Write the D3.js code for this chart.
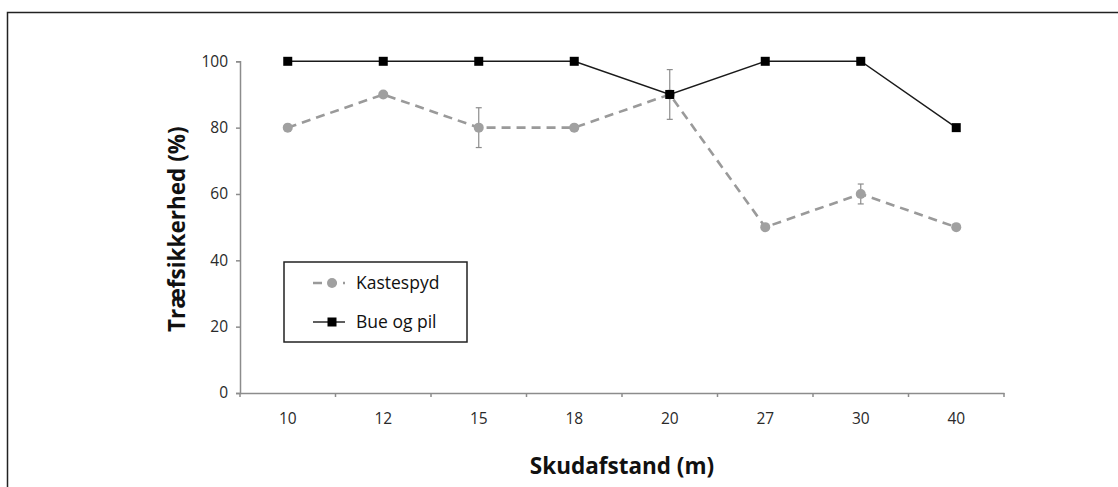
<!DOCTYPE html>
<html>
<head>
<meta charset="utf-8">
<script src="https://cdn.jsdelivr.net/npm/d3@7"></script>
<style>
  body { margin: 0; background: #fff; }
  text { font-family: "Open Sans", "Liberation Sans", sans-serif; }
</style>
</head>
<body>
<div id="chart"></div>
<script>
// data
var distances = ["10", "12", "15", "18", "20", "27", "30", "40"];
var kastespyd = [80, 90, 80, 80, 90, 50, 60, 50];
var kastespydErr = [0, 0, 6, 0, 7.5, 0, 3, 0];
var buePil = [100, 100, 100, 100, 90, 100, 100, 80];
var yTicks = [0, 20, 40, 60, 80, 100];

var svgWidth = 1118;
var svgHeight = 487;

var margin = { top: 61.3, right: 114, bottom: 94, left: 240 };
var width = svgWidth - margin.left - margin.right;
var height = svgHeight - margin.top - margin.bottom;

var svg = d3.select("#chart")
    .append("svg")
    .attr("width", svgWidth)
    .attr("height", svgHeight);

// outer frame (only top and left edges visible)
svg.append("rect")
    .attr("x", 7.5).attr("y", 12.5)
    .attr("width", svgWidth + 20).attr("height", svgHeight + 20)
    .attr("fill", "none")
    .attr("stroke", "#222")
    .attr("stroke-width", 1.5);

var g = svg.append("g")
    .attr("transform", `translate(${margin.left}, ${margin.top})`);

var x = d3.scaleBand().domain(distances).range([0, width]).paddingInner(0).paddingOuter(0);
var y = d3.scaleLinear().domain([0, 100]).range([height, 0]);
var cx = d => x(d) + x.bandwidth() / 2;

// y axis
var yAxis = g.append("g")
    .call(d3.axisLeft(y).tickValues(yTicks).tickSize(4).tickPadding(8));
yAxis.select(".domain").attr("stroke", "#8c8c8c").attr("stroke-width", 1.5);
yAxis.selectAll(".tick line").attr("stroke", "#8c8c8c").attr("stroke-width", 1.5);
yAxis.selectAll(".tick text").attr("font-size", 15.5).attr("fill", "#2a2a2a");

// x axis: labels centred in bands, ticks on band edges
var xAxis = g.append("g")
    .attr("transform", `translate(0, ${height})`)
    .call(d3.axisBottom(x).tickSize(0).tickPadding(20).tickSizeOuter(0));
xAxis.select(".domain").attr("stroke", "#8c8c8c").attr("stroke-width", 1.5);
xAxis.selectAll(".tick text").attr("font-size", 15.5).attr("fill", "#2a2a2a");
xAxis.selectAll(".edge")
    .data(distances.map(d => x(d)).concat([width]))
    .enter().append("line")
    .attr("class", "edge")
    .attr("x1", d => d).attr("x2", d => d)
    .attr("y1", 0).attr("y2", 4)
    .attr("stroke", "#8c8c8c").attr("stroke-width", 1.5);

// axis titles
g.append("text")
    .attr("transform", `translate(${-63}, ${height / 2 + 2}) rotate(-90)`)
    .attr("text-anchor", "middle")
    .attr("dy", "0.35em")
    .attr("font-size", 22.5)
    .attr("font-weight", "bold")
    .attr("fill", "#111")
    .text("Træfsikkerhed (%)");

g.append("text")
    .attr("x", width / 2)
    .attr("y", height + 73)
    .attr("text-anchor", "middle")
    .attr("dy", "0.35em")
    .attr("font-size", 22.5)
    .attr("font-weight", "bold")
    .attr("fill", "#111")
    .text("Skudafstand (m)");

// Kastespyd series
var line = d3.line().x((d, i) => cx(distances[i])).y(d => y(d));

g.append("path")
    .datum(kastespyd)
    .attr("d", line)
    .attr("fill", "none")
    .attr("stroke", "#9a9a9a")
    .attr("stroke-width", 2.6)
    .attr("stroke-dasharray", "9,6");

// error bars
var errData = distances.map((d, i) => ({ d: d, v: kastespyd[i], e: kastespydErr[i] })).filter(o => o.e > 0);
var eb = g.selectAll(".err").data(errData).enter().append("g").attr("class", "err")
    .attr("stroke", "#8c8c8c").attr("stroke-width", 1.2);
eb.append("line")
    .attr("x1", o => cx(o.d)).attr("x2", o => cx(o.d))
    .attr("y1", o => y(o.v + o.e)).attr("y2", o => y(o.v - o.e));
eb.append("line")
    .attr("x1", o => cx(o.d) - 3).attr("x2", o => cx(o.d) + 3)
    .attr("y1", o => y(o.v + o.e)).attr("y2", o => y(o.v + o.e));
eb.append("line")
    .attr("x1", o => cx(o.d) - 3).attr("x2", o => cx(o.d) + 3)
    .attr("y1", o => y(o.v - o.e)).attr("y2", o => y(o.v - o.e));

g.selectAll(".kdot").data(kastespyd).enter().append("circle")
    .attr("class", "kdot")
    .attr("cx", (d, i) => cx(distances[i]))
    .attr("cy", d => y(d))
    .attr("r", 5)
    .attr("fill", "#a0a0a0");

// Bue og pil series
g.append("path")
    .datum(buePil)
    .attr("d", line)
    .attr("fill", "none")
    .attr("stroke", "#1a1a1a")
    .attr("stroke-width", 1.4);

g.selectAll(".bsq").data(buePil).enter().append("rect")
    .attr("class", "bsq")
    .attr("x", (d, i) => cx(distances[i]) - 4.5)
    .attr("y", d => y(d) - 4.5)
    .attr("width", 9).attr("height", 9)
    .attr("fill", "#000");

// legend
var legend = svg.append("g").attr("transform", "translate(284, 262)");
legend.append("rect")
    .attr("width", 183).attr("height", 80)
    .attr("fill", "#fff")
    .attr("stroke", "#222")
    .attr("stroke-width", 1.5);

var lk = legend.append("g").attr("transform", "translate(0, 21)");
lk.append("line").attr("x1", 29).attr("x2", 61).attr("y1", 0).attr("y2", 0)
    .attr("stroke", "#9a9a9a").attr("stroke-width", 2.6).attr("stroke-dasharray", "9,6");
lk.append("circle").attr("cx", 48).attr("cy", 0).attr("r", 5).attr("fill", "#a0a0a0");
lk.append("text").attr("x", 72).attr("dy", "0.35em").attr("font-size", 17.5).attr("fill", "#111").text("Kastespyd");

var lb = legend.append("g").attr("transform", "translate(0, 60)");
lb.append("line").attr("x1", 29).attr("x2", 61).attr("y1", 0).attr("y2", 0)
    .attr("stroke", "#1a1a1a").attr("stroke-width", 1.4);
lb.append("rect").attr("x", 43.5).attr("y", -4.5).attr("width", 9).attr("height", 9).attr("fill", "#000");
lb.append("text").attr("x", 72).attr("dy", "0.35em").attr("font-size", 17.5).attr("fill", "#111").text("Bue og pil");
</script>
</body>
</html>
